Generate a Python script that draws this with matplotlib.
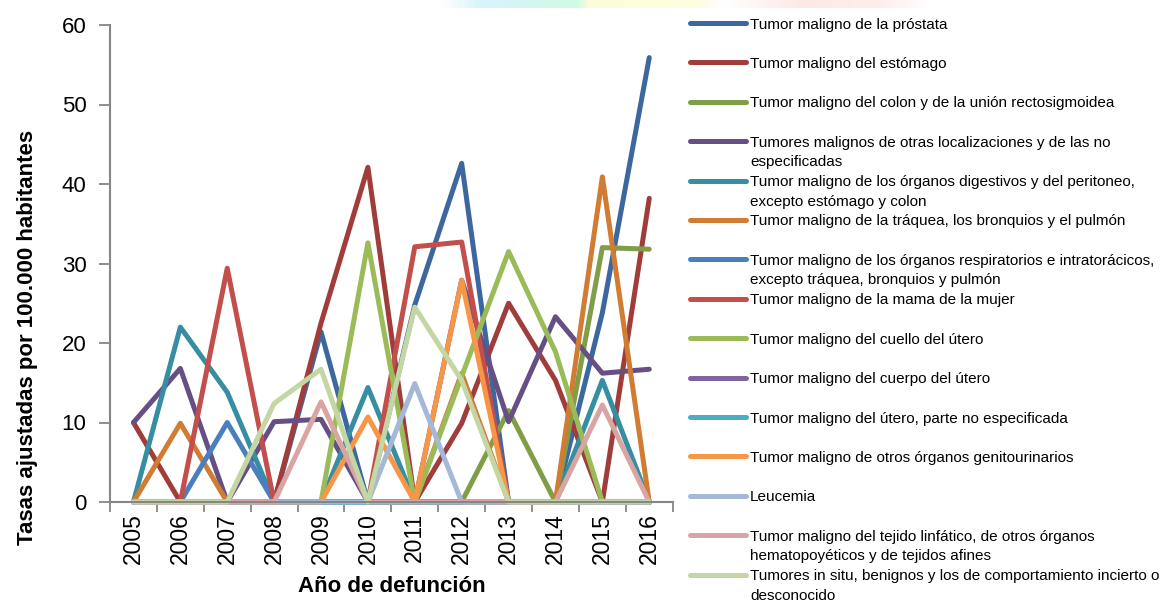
import matplotlib
matplotlib.use('Agg')
import matplotlib.pyplot as plt
from matplotlib.lines import Line2D
from matplotlib.colors import LinearSegmentedColormap

#! Datos
years = ['2005', '2006', '2007', '2008', '2009', '2010', '2011', '2012', '2013', '2014', '2015', '2016']

prostata = [0, 0, 0, 0, 21.4, 0, 24.8, 42.6, 0, 0, 23.8, 55.9]
estomago = [10, 0, 0, 0, 22.5, 42.1, 0, 9.9, 25.0, 15.3, 0, 38.2]
colon = [0, 0, 0, 0, 0, 0, 0, 0, 11.5, 0, 32.0, 31.8]
otras = [10, 16.8, 0, 10.1, 10.4, 0, 0, 27.9, 10.1, 23.3, 16.2, 16.7]
digestivos = [0, 22.0, 13.8, 0, 0, 14.4, 0, 0, 0, 0, 15.3, 0]
traquea = [0, 9.9, 0, 0, 0, 0, 0, 16.2, 0, 0, 40.9, 0]
respiratorios = [0, 0, 10, 0, 0, 0, 0, 0, 0, 0, 0, 0]
mama = [0, 0, 29.4, 0, 0, 0, 32.1, 32.7, 0, 0, 0, 0]
cuello = [0, 0, 0, 0, 0, 32.6, 0, 15.8, 31.5, 18.9, 0, 0]
cuerpo = [0, 0, 0, 0, 0, 0, 0, 0, 0, 0, 0, 0]
utero_ne = [0, 0, 0, 0, 0, 0, 0, 0, 0, 0, 0, 0]
genitourinarios = [0, 0, 0, 0, 0, 10.7, 0, 27.9, 0, 0, 0, 0]
leucemia = [0, 0, 0, 0, 0, 0, 14.9, 0, 0, 0, 0, 0]
linfatico = [0, 0, 0, 0, 12.6, 0, 0, 0, 0, 0, 12.2, 0]
in_situ = [0, 0, 0, 12.4, 16.7, 0, 24.5, 15.3, 0, 0, 0, 0]

labels = [
    'Tumor maligno de la próstata',
    'Tumor maligno del estómago',
    'Tumor maligno del colon y de la unión rectosigmoidea',
    'Tumores malignos de otras localizaciones y de las no\nespecificadas',
    'Tumor maligno de los órganos digestivos y del peritoneo,\nexcepto estómago y colon',
    'Tumor maligno de la tráquea, los bronquios y el pulmón',
    'Tumor maligno de los órganos respiratorios e intratorácicos,\nexcepto tráquea, bronquios y pulmón',
    'Tumor maligno de la mama de la mujer',
    'Tumor maligno del cuello del útero',
    'Tumor maligno del cuerpo del útero',
    'Tumor maligno del útero, parte no especificada',
    'Tumor maligno de otros órganos genitourinarios',
    'Leucemia',
    'Tumor maligno del tejido linfático, de otros órganos\nhematopoyéticos y de tejidos afines',
    'Tumores in situ, benignos y los de comportamiento incierto o\ndesconocido',
]
series = [prostata, estomago, colon, otras, digestivos, traquea, respiratorios, mama,
          cuello, cuerpo, utero_ne, genitourinarios, leucemia, linfatico, in_situ]
colors = ['#3C679F', '#A03D3B', '#7F9E47', '#654F85', '#378EA3', '#D07C33', '#4A7EBD', '#C24F4C',
          '#9BBB59', '#8064A2', '#4BACC6', '#F79646', '#A5B8D8', '#D9A5A3', '#C3D6A3']

font = 'Liberation Sans'

W, H = 1167, 606
fig = plt.figure(figsize=(W / 100, H / 100), dpi=100)

# franja decorativa tenue arriba (fondo de la pagina)
band = fig.add_axes([440 / W, 1 - 8 / H, 490 / W, 8 / H], zorder=0)
cmap = LinearSegmentedColormap.from_list('band', [
    (0.0, '#FFFFFF'), (0.08, '#D6F4FA'), (0.13, '#D6F4FA'), (0.2, '#D2F8EC'),
    (0.28, '#CFFBE3'), (0.30, '#FDFCDA'), (0.52, '#FEFCDD'), (0.58, '#FFFFFF'),
    (0.74, '#FCE9E6'), (0.9, '#FDEEEC'), (1.0, '#FFFFFF')])
band.imshow([[i / 199 for i in range(200)]], aspect='auto', cmap=cmap, extent=(0, 1, 0, 1))
band.axis('off')

ax = fig.add_axes([110 / W, 1 - 502 / H, 562.7 / W, 477 / H])
ax.patch.set_alpha(0)

x = list(range(len(years)))
for vals, col in zip(series, colors):
    ax.plot(x, vals, color=col, lw=3.6, solid_capstyle='round', solid_joinstyle='round', clip_on=False)

ax.set_xlim(-0.5, len(years) - 0.5)
ax.set_ylim(0, 60)
ax.set_yticks(range(0, 61, 10))
ax.set_xticks(x)
ax.set_xticklabels(years, rotation=90, fontsize=16.5, family=font)
ax.set_xticks([i - 0.5 for i in range(len(years) + 1)], minor=True)
ax.tick_params(axis='x', which='major', length=0, pad=8)
ax.tick_params(axis='x', which='minor', length=7, width=1.3, color='#868686')
ax.tick_params(axis='y', length=8, width=1.3, color='#868686', pad=9, labelsize=16)
for t in ax.get_yticklabels():
    t.set_family(font)

for s in ['top', 'right']:
    ax.spines[s].set_visible(False)
for s in ['left', 'bottom']:
    ax.spines[s].set_color('#868686')
    ax.spines[s].set_linewidth(1.5)

ax.set_xlabel('Año de defunción', fontsize=16, fontweight='bold', family=font)
ax.set_ylabel('Tasas ajustadas por 100.000 habitantes', fontsize=16, fontweight='bold', family=font)
ax.yaxis.set_label_coords(-0.128, 0.345)
ax.xaxis.set_label_coords(0.5, -0.155)

#! Leyenda (manual, estilo Excel)
for i, (lab, col) in enumerate(zip(labels, colors)):
    yp = 23 + 39.4 * i
    fig.add_artist(Line2D([690 / W, 746 / W], [1 - yp / H, 1 - yp / H], color=col, lw=3.6,
                          solid_capstyle='round'))
    for j, line in enumerate(lab.split('\n')):
        yb = yp + 5.5 + 19.5 * j
        fig.text(750 / W, 1 - yb / H, line, fontsize=11, family=font, va='baseline', ha='left')

fig.savefig('out.png', dpi=100)
